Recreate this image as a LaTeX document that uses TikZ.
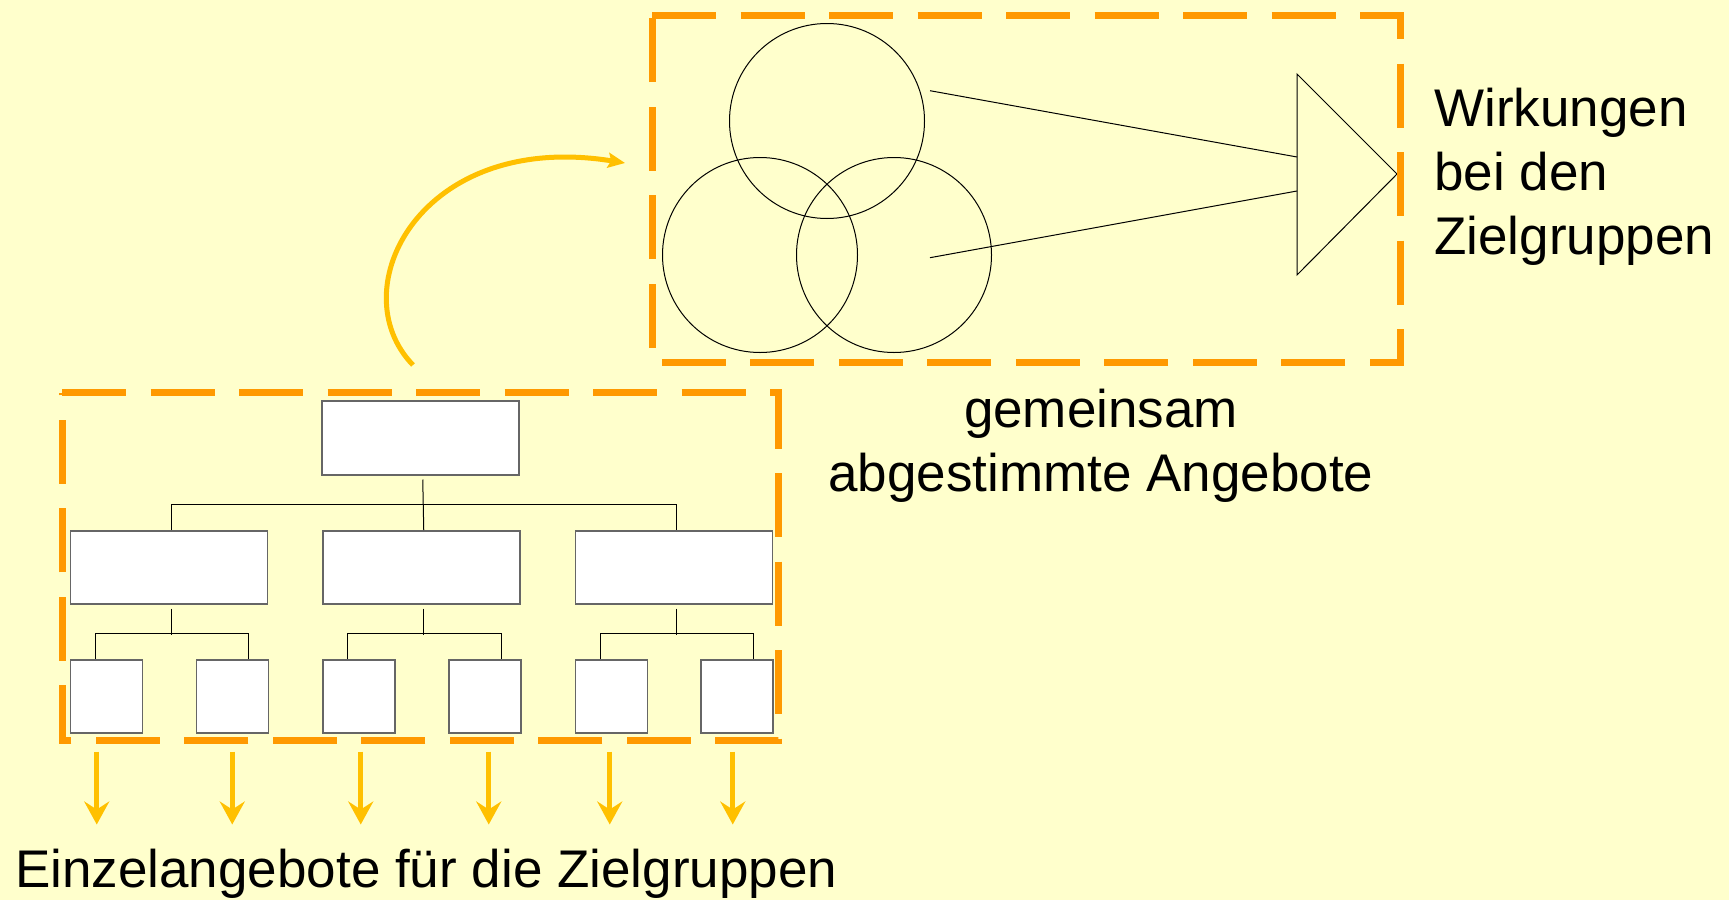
\documentclass[tikz,border=0pt]{standalone}
\usepackage{fontspec}
\setmainfont{Liberation Sans}
\usetikzlibrary{arrows.meta,calc}
\definecolor{bg}{HTML}{FFFFCC}
\definecolor{dashorange}{HTML}{FF9900}
\definecolor{gold}{HTML}{FFC000}
\begin{document}
\begin{tikzpicture}[x=1pt,y=-1pt,
  orgbox/.style={draw=black!60, line width=1.5pt, fill=white, inner sep=0pt, anchor=north west},
  bigbox/.style={orgbox, minimum width=197pt, minimum height=73pt},
  smallbox/.style={orgbox, minimum width=72pt, minimum height=73pt},
  conn/.style={draw=black, line width=1pt},
  frame/.style={draw=dashorange, line width=7pt, dash pattern=on 64pt off 24.5pt},
  downarrow/.style={draw=gold, line width=5pt, -{Stealth[length=23pt,width=25pt,inset=8pt]}},
  curvearrow/.style={draw=gold, line width=5pt, -{Stealth[length=17pt,width=15pt,inset=3pt]}},
  lbl/.style={font=\fontsize{53}{64}\selectfont, inner sep=0pt},
  ring/.style={draw=black, line width=1pt, circle, minimum size=195pt, inner sep=0pt}
]
\fill[bg] (0,0) rectangle (1729,900);
\useasboundingbox (0,0) rectangle (1729,900);

% org chart boxes
\node[bigbox, minimum height=74pt] (top) at (321,400) {};
\node[bigbox] (m1) at (69.5,530) {};
\node[bigbox] (m2) at (322,530) {};
\node[bigbox] (m3) at (574.5,530) {};
\node[smallbox] (b1) at (69.5,659) {};
\node[smallbox] (b2) at (195.5,659) {};
\node[smallbox] (b3) at (322,659) {};
\node[smallbox] (b4) at (448,659) {};
\node[smallbox] (b5) at (574.5,659) {};
\node[smallbox] (b6) at (700,659) {};

% org chart connectors
\draw[conn] ([xshift=2.5pt,yshift=-4pt]top.south) -- ([xshift=2.5pt]m2.north);
\draw[conn] ([xshift=2.5pt]m1.north) -- ++(0,-26) -| ([xshift=2.5pt]m3.north);
\foreach \m/\l/\r in {m1/b1/b2, m2/b3/b4, m3/b5/b6}{
  \draw[conn] ([xshift=2.5pt,yshift=-4pt]\m.south) -- ++(0,26);
  \draw[conn] ([xshift=25.5pt]\l.north west) -- ++(0,-26) -| ([xshift=-20.5pt]\r.north east);
}

% down arrows
\foreach \b/\s in {b1/-9.5, b2/0, b3/2, b4/4, b5/-1.5, b6/-4}{
  \draw[downarrow] ([xshift=\s pt,yshift=-18pt]\b.south) -- ++(0,73);
}

% circles
\node[ring] (c1) at (827,121) {};
\node[ring] (c2) at (760,255) {};
\node[ring] (c3) at (894,255) {};

% triangle arrow
\coordinate (t1) at (1297,74);
\coordinate (t2) at (1297,275);
\coordinate (t3) at (1397,174);
\draw[line width=1pt] (t1) -- (t3) -- (t2) -- cycle;
\coordinate (s1) at ($(c1.center)+(103,-30.3)$);
\coordinate (e1) at (1297,157);
\coordinate (s2) at ($(c3.center)+(36,2.7)$);
\coordinate (e2) at (1297,191);
\draw[line width=1pt] (s1) -- (e1);
\draw[line width=1pt] (s2) -- (e2);

% curved arrow
\coordinate (cs) at (413,365);
\coordinate (ce) at (625,163);
\draw[curvearrow] (cs) .. controls (340,290) and (420,130) .. (ce);

% dashed frames
\draw[frame] (652,15) -- (1400,15) -- (1400,362.5) -- (652,362.5) -- cycle;
\draw[frame] (62,392.6) -- (778,392.6) -- (778,740) -- (62,740) -- cycle;

% texts (base anchor = baseline of last line)
\node[lbl, anchor=base west] (einz) at (15,887) {Einzelangebote für die Zielgruppen};
\node[lbl, anchor=base west, align=left] (wirk) at (1434,254) {Wirkungen\\bei den\\Zielgruppen};
\node[lbl, anchor=base, align=center] (gem) at (1101,491) {gemeinsam\\abgestimmte Angebote};
\end{tikzpicture}
\end{document}
